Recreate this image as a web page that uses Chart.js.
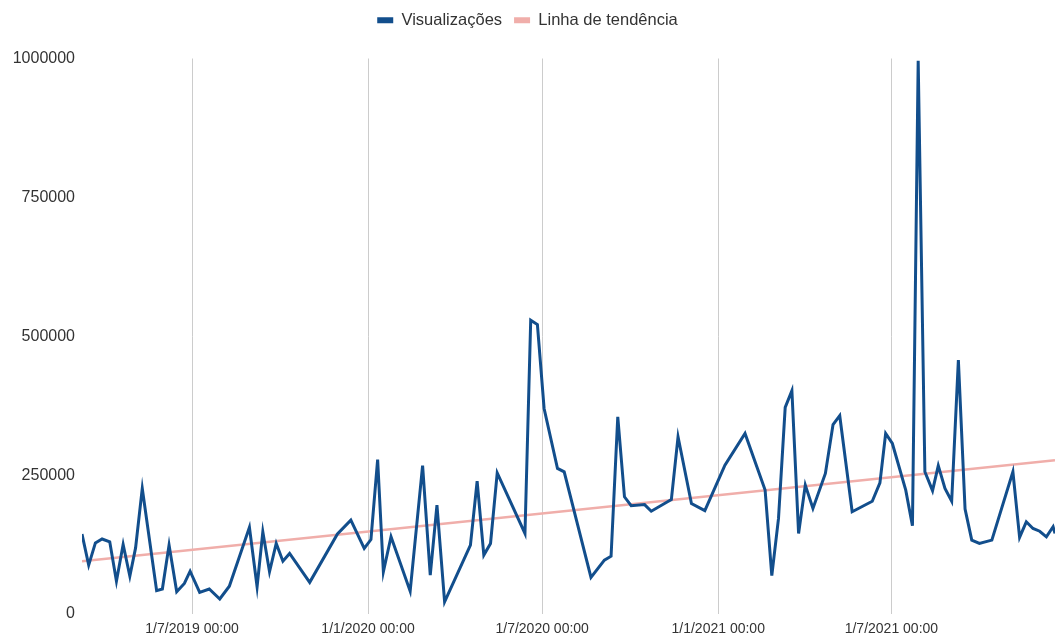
<!DOCTYPE html>
<html>
<head>
<meta charset="utf-8">
<script src="https://cdn.jsdelivr.net/npm/chart.js@4/dist/chart.umd.min.js"></script>
<style>
  html, body { margin: 0; padding: 0; background: #fff; }
  #wrap { position: relative; width: 1055px; height: 634px; }
</style>
</head>
<body>
<div id="wrap"><canvas id="chart"></canvas></div>
<script>
// weekly-ish views
const datas = [
    '2019-03-08', '2019-03-15', '2019-03-22', '2019-03-29', '2019-04-06', '2019-04-13', '2019-04-20', '2019-04-27',
    '2019-05-03', '2019-05-10', '2019-05-25', '2019-05-31', '2019-06-07', '2019-06-15', '2019-06-23', '2019-06-29',
    '2019-07-09', '2019-07-19', '2019-07-30', '2019-08-09', '2019-08-30', '2019-09-07', '2019-09-13', '2019-09-20',
    '2019-09-27', '2019-10-04', '2019-10-11', '2019-11-01', '2019-11-30', '2019-12-14', '2019-12-28', '2020-01-04',
    '2020-01-11', '2020-01-17', '2020-01-25', '2020-02-14', '2020-02-27', '2020-03-06', '2020-03-13', '2020-03-21',
    '2020-04-17', '2020-04-24', '2020-05-01', '2020-05-08', '2020-05-15', '2020-06-13', '2020-06-19', '2020-06-26',
    '2020-07-03', '2020-07-17', '2020-07-24', '2020-08-21', '2020-09-04', '2020-09-11', '2020-09-18', '2020-09-25',
    '2020-10-02', '2020-10-16', '2020-10-23', '2020-11-09', '2020-11-13', '2020-11-20', '2020-12-04', '2020-12-18',
    '2021-01-08', '2021-01-29', '2021-02-19', '2021-02-26', '2021-03-05', '2021-03-12', '2021-03-19', '2021-03-26',
    '2021-04-02', '2021-04-10', '2021-04-23', '2021-05-01', '2021-05-08', '2021-05-21', '2021-06-11', '2021-06-19',
    '2021-06-25', '2021-07-02', '2021-07-16', '2021-07-23', '2021-07-29', '2021-08-05', '2021-08-13', '2021-08-19',
    '2021-08-26', '2021-09-02', '2021-09-09', '2021-09-16', '2021-09-23', '2021-10-01', '2021-10-14', '2021-11-05',
    '2021-11-12', '2021-11-19', '2021-11-26', '2021-12-03', '2021-12-10', '2021-12-17', '2021-12-19'
];

const visualizacoes = [
    144000, 88000, 128000, 135000, 130000, 59000, 125000, 68000,
    119000, 226000, 42000, 45000, 124000, 40000, 55000, 77000,
    39000, 45000, 27000, 50000, 156000, 49000, 148000, 76000,
    127000, 95000, 109000, 57000, 144000, 169000, 118000, 134000,
    278000, 76000, 139000, 41000, 267000, 70000, 196000, 22000,
    124000, 239000, 106000, 127000, 254000, 145000, 529000, 521000,
    370000, 262000, 256000, 66000, 97000, 104000, 355000, 211000,
    195000, 197000, 185000, 202000, 206000, 319000, 199000, 186000,
    268000, 325000, 223000, 69000, 172000, 372000, 402000, 145000,
    232000, 190000, 253000, 341000, 357000, 184000, 203000, 236000,
    325000, 307000, 223000, 159000, 996000, 256000, 222000, 267000,
    226000, 203000, 457000, 189000, 133000, 127000, 133000, 256000,
    138000, 166000, 154000, 149000, 139000, 157000, 145000
];

// trend line end values (start / end of the period)
const tendencia = [95000, 277000];

const xTicks = ['2019-07-01', '2020-01-01', '2020-07-01', '2021-01-01', '2021-07-01'];
const yTicks = [0, 250000, 500000, 750000, 1000000];

const toDay = s => Date.parse(s + 'T00:00:00Z') / 86400000;
const fmtDate = d => {
    const dt = new Date(d * 86400000);
    return `${dt.getUTCDate()}/${dt.getUTCMonth() + 1}/${dt.getUTCFullYear()} 00:00`;
};

const dias = datas.map(toDay);
const serie = dias.map((d, i) => ({ x: d, y: visualizacoes[i] }));
const linhaTend = [
    { x: dias[0], y: tendencia[0] },
    { x: dias[dias.length - 1], y: tendencia[1] }
];

const FONT = "'Liberation Sans', Arial, sans-serif";

// extra room under the legend
const legendSpace = {
    id: 'legendSpace',
    beforeInit(chart) {
        const origFit = chart.legend.fit;
        chart.legend.fit = function() {
            origFit.bind(chart.legend)();
            this.height += 20;
        };
    }
};

new Chart(document.getElementById('chart'), {
    type: 'line',
    data: {
        datasets: [
            {
                label: 'Visualizações',
                data: serie,
                borderColor: '#124e8c',
                backgroundColor: '#124e8c',
                borderWidth: 3,
                pointRadius: 0,
                tension: 0
            },
            {
                label: 'Linha de tendência',
                data: linhaTend,
                borderColor: '#f0aeaa',
                backgroundColor: '#f0aeaa',
                borderWidth: 2.5,
                pointRadius: 0,
                tension: 0
            }
        ]
    },
    options: {
        responsive: true,
        maintainAspectRatio: false,
        animation: false,
        layout: { padding: { top: 0, right: 0, left: 0, bottom: 0 } },
        plugins: {
            legend: {
                position: 'top',
                labels: {
                    boxWidth: 16,
                    boxHeight: 6,
                    padding: 12,
                    color: '#333',
                    font: { family: FONT, size: 16.5 },
                    generateLabels: (chart) => {
                        const items = Chart.defaults.plugins.legend.labels.generateLabels(chart);
                        items.forEach(it => { it.lineWidth = 0; });
                        return items;
                    }
                }
            },
            tooltip: { enabled: false }
        },
        scales: {
            x: {
                type: 'linear',
                min: dias[0],
                max: dias[dias.length - 1],
                afterBuildTicks: (scale) => {
                    scale.ticks = xTicks.map(t => ({ value: toDay(t) }));
                },
                afterFit: (scale) => { scale.height = 20; },
                ticks: {
                    autoSkip: false,
                    maxRotation: 0,
                    padding: 7,
                    color: '#333',
                    font: { family: FONT, size: 14 },
                    callback: (v) => fmtDate(v)
                },
                grid: { color: '#cccccc', lineWidth: 1, drawTicks: false },
                border: { display: false }
            },
            y: {
                min: 0,
                max: 1000000,
                afterBuildTicks: (scale) => {
                    scale.ticks = yTicks.map(v => ({ value: v }));
                },
                afterFit: (scale) => { scale.width = 82; },
                ticks: {
                    padding: 7,
                    color: '#333',
                    font: { family: FONT, size: 16 },
                    callback: (v) => String(v)
                },
                grid: { display: false, drawTicks: false },
                border: { display: false }
            }
        }
    },
    plugins: [legendSpace]
});
</script>
</body>
</html>
